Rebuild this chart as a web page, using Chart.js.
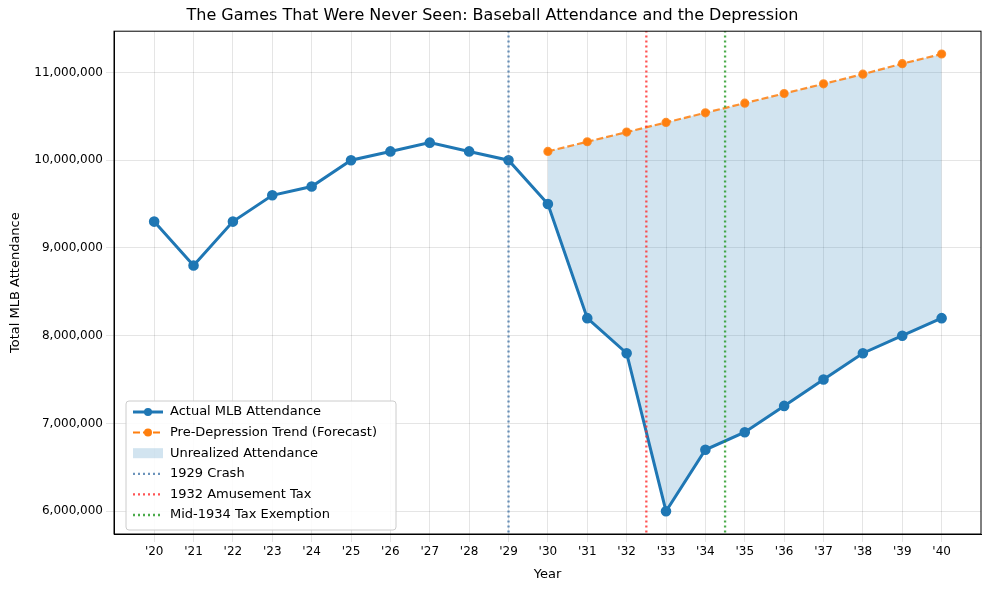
<!DOCTYPE html><html><head><script src="https://cdn.jsdelivr.net/npm/chart.js"></script>
<style>body{margin:0;background:#fff}#w{width:989px;height:590px}</style></head><body><div id="w"><canvas id="c"></canvas></div>
<script>
const years=[20,21,22,23,24,25,26,27,28,29,30,31,32,33,34,35,36,37,38,39,40];
const actual=[9300000,8800000,9300000,9600000,9700000,10000000,10100000,10200000,10100000,10000000,9500000,8200000,7800000,6000000,6700000,6900000,7200000,7500000,7800000,8000000,8200000];
const fYears=[30,31,32,33,34,35,36,37,38,39,40];
const forecast=[10100000,10210000,10320000,10430000,10540000,10650000,10760000,10870000,10980000,11100000,11210000];
const events=[{x:29,label:'1929 Crash',c:'rgba(70,120,170,0.8)'},{x:32.5,label:'1932 Amusement Tax',c:'rgba(255,40,40,0.8)'},{x:34.5,label:'Mid-1934 Tax Exemption',c:'rgba(30,150,30,0.8)'}];
const F="DejaVu Sans";Chart.defaults.font.family=F;Chart.defaults.color='#000';
const ds=[
{label:'Pre-Depression Trend (Forecast)',data:fYears.map((x,i)=>({x,y:forecast[i]})),borderColor:'rgba(255,127,14,0.85)',backgroundColor:'#ff7f0e',borderDash:[7,3],borderWidth:2.2,pointRadius:3.5,order:2,fill:false},
{label:'Unrealized Attendance',data:fYears.map(x=>({x,y:actual[years.indexOf(x)]})),borderWidth:0,pointRadius:0,borderColor:'rgba(0,0,0,0)',backgroundColor:'rgba(31,119,180,0.2)',fill:{target:0},order:3},
{label:'Actual MLB Attendance',data:years.map((x,i)=>({x,y:actual[i]})),borderColor:'#1f77b4',backgroundColor:'#1f77b4',borderWidth:3,pointRadius:3.8,order:1,fill:false},
...events.map(e=>({label:e.label,data:[{x:e.x,y:5700000},{x:e.x,y:11500000}],borderColor:e.c,borderDash:[2,3],borderWidth:2.3,pointRadius:0,fill:false,order:0}))
];
const legendPlugin={id:'lg',afterDraw(ch){const c=ch.ctx,a=ch.chartArea;c.save();c.strokeStyle='#000';c.lineWidth=1;c.strokeRect(a.left,a.top,a.right-a.left,a.bottom-a.top);
const x0=126,y0=401,w=270,h=129;c.fillStyle='rgba(255,255,255,0.85)';c.strokeStyle='#ccc';c.beginPath();c.roundRect(x0,y0,w,h,3);c.fill();c.stroke();
const items=[{t:'Actual MLB Attendance',c:'#1f77b4',d:[],m:1,lw:3},{t:'Pre-Depression Trend (Forecast)',c:'#ff7f0e',d:[7,3],m:1,lw:2},{t:'Unrealized Attendance',box:1},...events.map(e=>({t:e.label,c:e.c,d:[2,3],lw:2.3}))];
c.font='13px '+F;c.textBaseline='middle';items.forEach((it,i)=>{const y=y0+11+i*20.6;
if(it.box){c.fillStyle='rgba(31,119,180,0.2)';c.fillRect(x0+7,y-5,30,10);}else{c.strokeStyle=it.c;c.lineWidth=it.lw;c.setLineDash(it.d);c.beginPath();c.moveTo(x0+7,y);c.lineTo(x0+37,y);c.stroke();c.setLineDash([]);if(it.m){c.fillStyle=it.c;c.beginPath();c.arc(x0+22,y,4,0,7);c.fill();}}
c.fillStyle='#000';c.fillText(it.t,x0+44,y);});c.restore();}};
new Chart(document.getElementById('c'),{type:'line',data:{datasets:ds},plugins:[legendPlugin],options:{animation:false,responsive:true,maintainAspectRatio:false,
layout:{padding:{left:4,right:8,top:2,bottom:4}},
plugins:{legend:{display:false},tooltip:{enabled:false},title:{display:true,text:'The Games That Were Never Seen: Baseball Attendance and the Depression',font:{size:16,weight:'normal'},padding:{top:4,bottom:6}}},
scales:{x:{type:'linear',min:18.98,max:41,afterBuildTicks(a){a.ticks=years.map(v=>({value:v}));},ticks:{callback:v=>"'"+v,autoSkip:false,maxRotation:0,font:{size:12}},grid:{color:'rgba(0,0,0,0.1)'},border:{color:'#000'},title:{display:true,text:'Year',font:{size:13}}},
y:{min:5740000,max:11470000,afterFit(s){s.width=110;},afterBuildTicks(a){a.ticks=[6,7,8,9,10,11].map(v=>({value:v*1e6}));},ticks:{callback:v=>v.toLocaleString('en-US'),font:{size:12}},grid:{color:'rgba(0,0,0,0.1)'},border:{color:'#000'},title:{display:true,text:'Total MLB Attendance',font:{size:13}}}}}});
</script></body></html>
